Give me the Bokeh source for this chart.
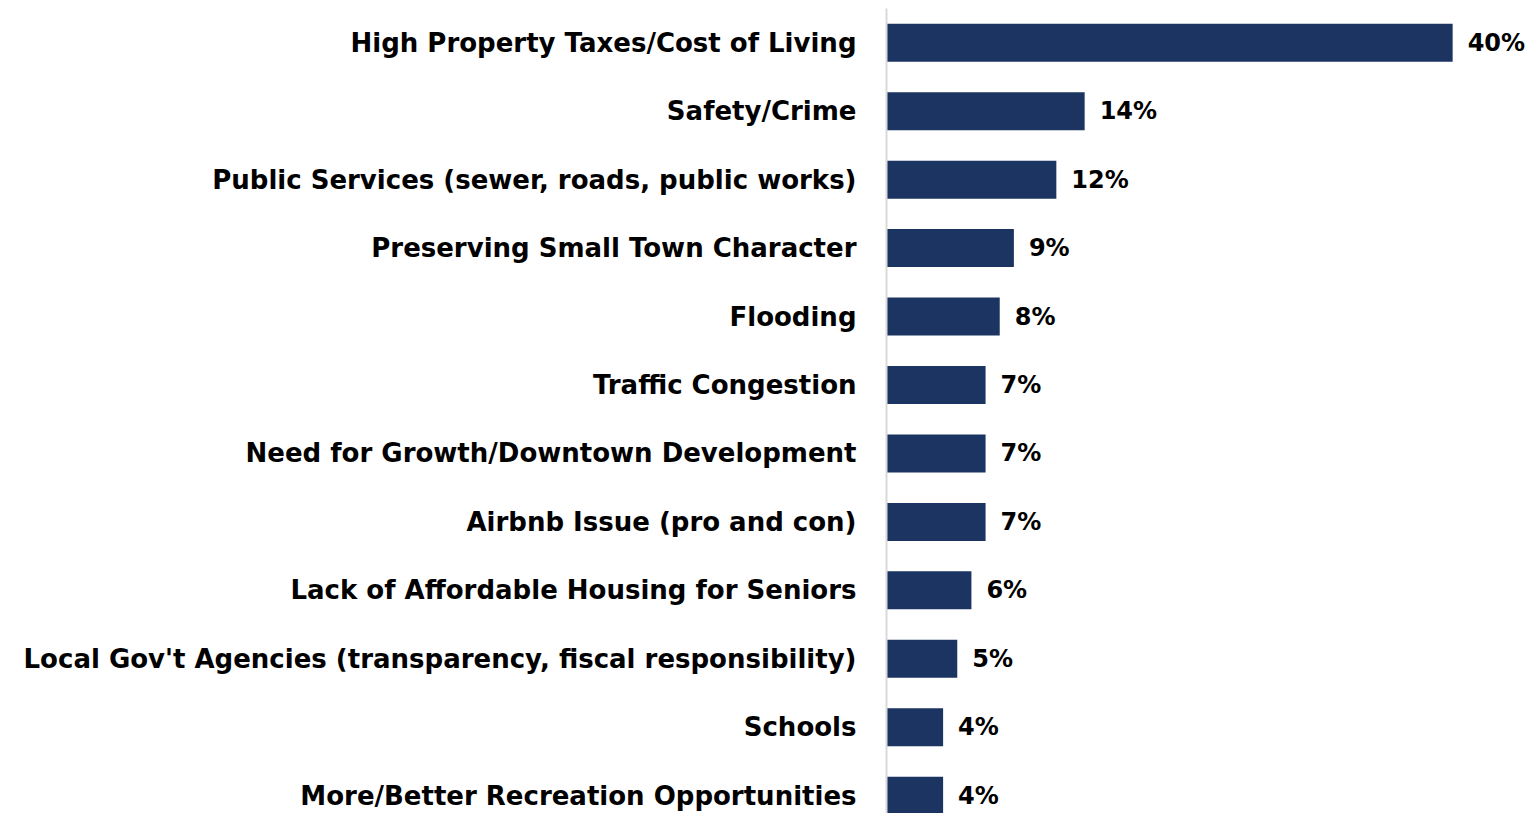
from bokeh.plotting import figure
from bokeh.models import ColumnDataSource, Range1d, FixedTicker
from bokeh.core.properties import value
from bokeh.embed import file_html
from bokeh.resources import INLINE

categories = [
    "High Property Taxes/Cost of Living",
    "Safety/Crime",
    "Public Services (sewer, roads, public works)",
    "Preserving Small Town Character",
    "Flooding",
    "Traffic Congestion",
    "Need for Growth/Downtown Development",
    "Airbnb Issue (pro and con)",
    "Lack of Affordable Housing for Seniors",
    "Local Gov't Agencies (transparency, fiscal responsibility)",
    "Schools",
    "More/Better Recreation Opportunities",
]
values = [40, 14, 12, 9, 8, 7, 7, 7, 6, 5, 4, 4]
value_labels = ["40%", "14%", "12%", "9%", "8%", "7%", "7%", "7%", "6%", "5%", "4%", "4%"]

FONT = "DejaVu Sans"
BAR_COLOR = "#1C3461"

pos = list(range(len(categories)))
src = ColumnDataSource(dict(y=pos, v=values, lab=value_labels))

p = figure(
    width=1530, height=813,
    x_range=Range1d(0, 45.5),
    y_range=Range1d(11.26, -0.5),
    output_backend="svg", toolbar_location=None,
    min_border_left=886, min_border_right=0, min_border_top=8, min_border_bottom=0,
)
p.hbar(y="y", right="v", left=0, height=0.555, source=src,
       fill_color=BAR_COLOR, line_color=None)
p.text(x="v", y="y", text="lab", source=src, x_offset=15,
       text_font=value(FONT), text_font_style="bold", text_font_size="24px",
       text_align="left", text_baseline="middle", text_color="black")

p.xaxis.visible = False
p.xgrid.visible = False
p.ygrid.visible = False
p.outline_line_color = None

ya = p.yaxis[0]
ya.ticker = FixedTicker(ticks=pos)
ya.major_label_overrides = {i: c for i, c in enumerate(categories)}
ya.major_tick_line_color = None
ya.minor_tick_line_color = None
ya.axis_line_color = "#D9D9D9"
ya.axis_line_width = 2
ya.major_label_standoff = 24
ya.major_label_text_font = FONT
ya.major_label_text_font_style = "bold"
ya.major_label_text_font_size = "26px"
ya.major_label_text_color = "black"

open("out.html", "w").write(file_html(p, INLINE))
